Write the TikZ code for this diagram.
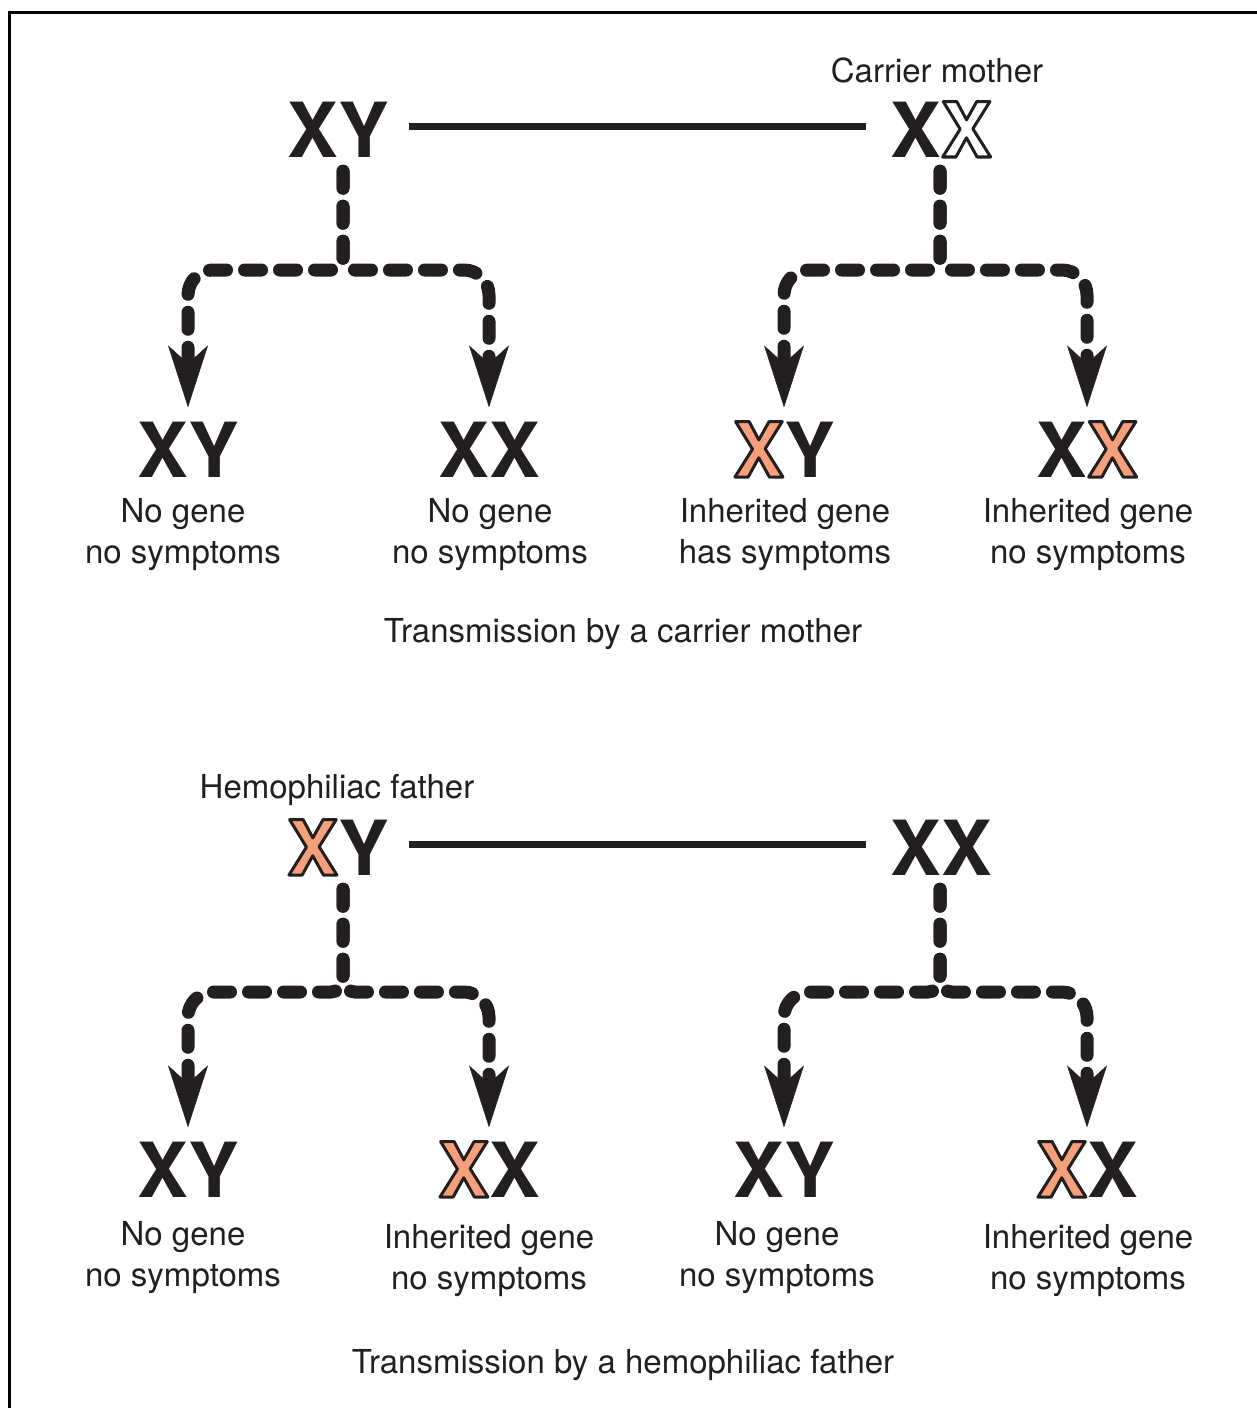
\documentclass[tikz,border=0pt]{standalone}
\usepackage{fontspec}
\setmainfont{TeX Gyre Heros}
\usetikzlibrary{arrows.meta,calc}
\definecolor{ink}{HTML}{231F20}
\definecolor{salmon}{HTML}{F5A07B}
% outlined X: fill in colour #1, stroke in ink (text render mode 2)
\newcommand{\outX}[1]{{\color{#1}\special{pdf:literal direct 0.137 0.122 0.125 RG 3 w 1 j 2 Tr}X\special{pdf:literal direct 0 Tr}}}
\newcommand{\hX}{\outX{salmon}}
\newcommand{\oX}{\outX{white}}
\tikzset{
  big/.style={font=\fontsize{76}{76}\selectfont\bfseries, text=ink, inner xsep=20pt, inner ysep=0pt, anchor=base},
  kid/.style={font=\fontsize{76}{76}\selectfont\bfseries, text=ink, inner xsep=2pt, inner ysep=0pt, anchor=base},
  lbl/.style={font=\fontsize{33}{41}\selectfont, align=center, text=ink},
  ttl/.style={font=\fontsize{33}{41}\selectfont, text=ink, anchor=base},
  dl/.style={ink, line width=13pt, line cap=round, dash pattern=on 17pt off 18pt,
    -{Stealth[length=62pt,width=40pt,inset=18pt,line width=0.5pt]}},
  mate/.style={ink, line width=7pt}
}
\begin{document}
\begin{tikzpicture}[x=1pt,y=-1pt]
\useasboundingbox (0,0) rectangle (1256,1408);
\draw[line width=3pt, black] (9.5,1410) -- (9.5,12.5) -- (1258,12.5);

% ---------- top family ----------
\node[ttl] (cm) at (937,82) {Carrier mother};
\node[big] (pA) at (338,157) {XY};
\node[big] (pB) at (941,157) {X\oX};
\draw[mate] ([yshift=3pt]pA.east) -- ([xshift=-4pt,yshift=3pt]pB.west);

\node[kid] (a1) at (188,477) {XY};
\node[kid] (a2) at (489,477) {XX};
\node[kid] (a3) at (784,477) {\hX Y};
\node[kid] (a4) at (1087,477) {X\hX};

\coordinate (jA) at (343,270);
\coordinate (jB) at (940,270);
\foreach \c in {a1,a2}{
  \draw[dl] ($(jA |- pA.south)+(0,14)$) [rounded corners=12pt] -- (jA) [rounded corners=25pt] -| ([yshift=14pt]\c.north);
}
\foreach \c in {a3,a4}{
  \draw[dl] ($(jB |- pB.south)+(0,14)$) [rounded corners=12pt] -- (jB) [rounded corners=25pt] -| ([yshift=14pt]\c.north);
}

\node[lbl] (l1) at (183,535) {No gene\\no symptoms};
\node[lbl] (l2) at (490,535) {No gene\\no symptoms};
\node[lbl] (l3) at (785,535) {Inherited gene\\has symptoms};
\node[lbl] (l4) at (1088,535) {Inherited gene\\no symptoms};

\node[ttl] (t1) at (623,642) {Transmission by a carrier mother};

% ---------- bottom family ----------
\node[ttl] (hf) at (337,798) {Hemophiliac father};
\node[big] (pC) at (338,875) {\hX Y};
\node[big] (pD) at (941,875) {XX};
\draw[mate] ([yshift=3pt]pC.east) -- ([xshift=-4pt,yshift=3pt]pD.west);

\node[kid] (b1) at (188,1197) {XY};
\node[kid] (b2) at (489,1197) {\hX X};
\node[kid] (b3) at (784,1197) {XY};
\node[kid] (b4) at (1087,1197) {\hX X};

\coordinate (jC) at (343,992);
\coordinate (jD) at (940,992);
\foreach \c in {b1,b2}{
  \draw[dl] ($(jC |- pC.south)+(0,14)$) [rounded corners=12pt] -- (jC) [rounded corners=25pt] -| ([yshift=14pt]\c.north);
}
\foreach \c in {b3,b4}{
  \draw[dl] ($(jD |- pD.south)+(0,14)$) [rounded corners=12pt] -- (jD) [rounded corners=25pt] -| ([yshift=14pt]\c.north);
}

\node[lbl] (m1) at (183,1258) {No gene\\no symptoms};
\node[lbl] (m2) at (489,1261) {Inherited gene\\no symptoms};
\node[lbl] (m3) at (777,1258) {No gene\\no symptoms};
\node[lbl] (m4) at (1088,1261) {Inherited gene\\no symptoms};

\node[ttl] (t2) at (623,1373) {Transmission by a hemophiliac father};
\end{tikzpicture}
\end{document}
